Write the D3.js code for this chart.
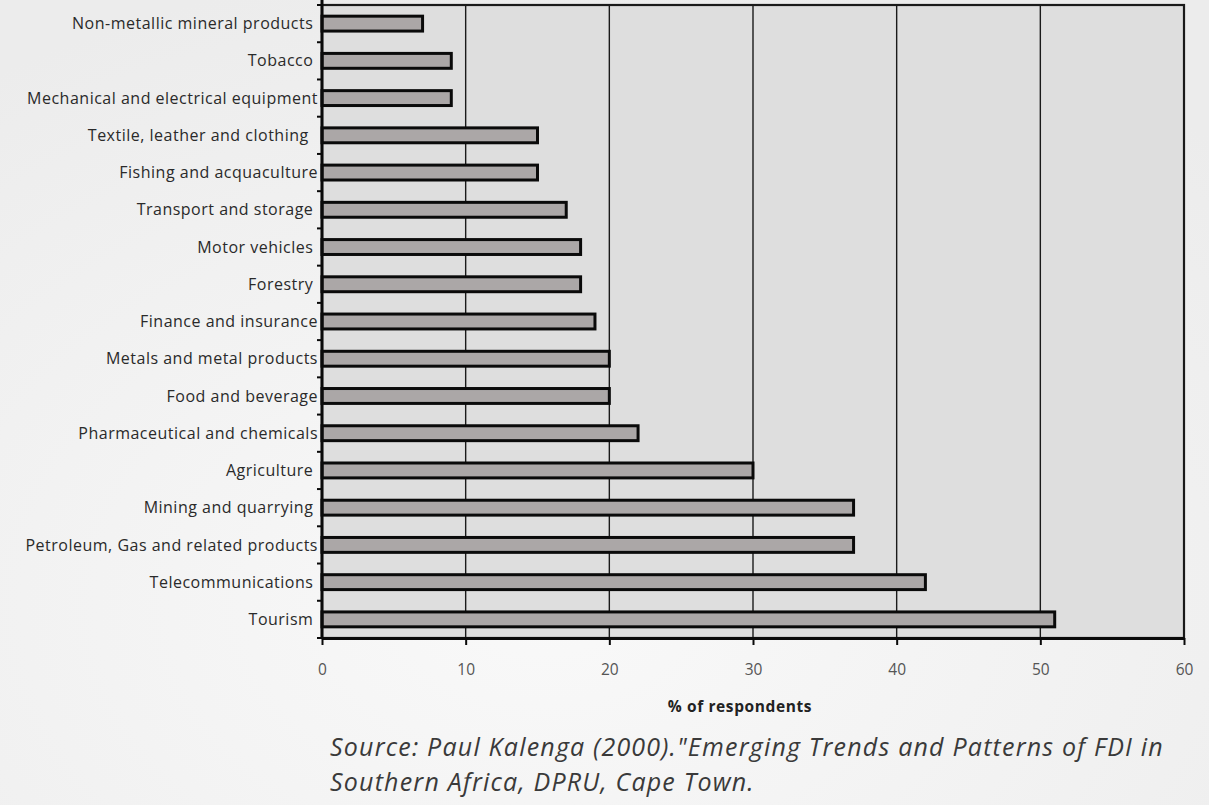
<!DOCTYPE html>
<html>
<head>
<meta charset="utf-8">
<script src="https://cdn.jsdelivr.net/npm/d3@7"></script>
<style>
  html, body { margin: 0; padding: 0; }
  body { width: 1209px; height: 805px; overflow: hidden; }
  svg { display: block; }
  text { white-space: pre; }
</style>
</head>
<body>
<svg id="chart" width="1209" height="805"></svg>
<script>
// Sectors attracting FDI, share of respondents (%)
const sectors = [
  "Non-metallic mineral products ",
  "Tobacco ",
  "Mechanical and electrical equipment",
  "Textile, leather and clothing  ",
  "Fishing and acquaculture",
  "Transport and storage ",
  "Motor vehicles ",
  "Forestry ",
  "Finance and insurance",
  "Metals and metal products",
  "Food and beverage",
  "Pharmaceutical and chemicals",
  "Agriculture ",
  "Mining and quarrying ",
  "Petroleum, Gas and related products",
  "Telecommunications ",
  "Tourism "
];
const respondents = [7, 9, 9, 15, 15, 17, 18, 18, 19, 20, 20, 22, 30, 37, 37, 42, 51];
const xTicks = [0, 10, 20, 30, 40, 50, 60];
const xTitle = "% of respondents";
const sourceLines = [
  "Source: Paul Kalenga (2000).\"Emerging Trends and Patterns of FDI in",
  "Southern Africa, DPRU, Cape Town."
];

const svg = d3.select("#chart");
const W = 1209, H = 805;
const plot = { left: 322, right: 1184, top: 5, bottom: 638 };
const font = "'Open Sans', sans-serif";

// page background
const defs = svg.append("defs");
const bg = defs.append("radialGradient").attr("id", "bg")
  .attr("cx", "0.45").attr("cy", "0.75").attr("r", "0.8");
bg.append("stop").attr("offset", "0%").attr("stop-color", "#f9f9f9");
bg.append("stop").attr("offset", "100%").attr("stop-color", "#ececec");
svg.append("rect").attr("width", W).attr("height", H).attr("fill", "url(#bg)");

const x = d3.scaleLinear().domain([0, 60]).range([plot.left, plot.right]);
const y = d3.scaleBand().domain(sectors)
  .range([plot.top, plot.bottom])
  .paddingInner(0.6).paddingOuter(0.3);

// plot area
svg.append("rect")
  .attr("x", plot.left).attr("y", plot.top)
  .attr("width", plot.right - plot.left).attr("height", plot.bottom - plot.top)
  .attr("fill", "#dedede");

// vertical gridlines
svg.append("g").selectAll("line")
  .data(xTicks.slice(1, -1))
  .join("line")
  .attr("x1", d => x(d)).attr("x2", d => x(d))
  .attr("y1", plot.top).attr("y2", plot.bottom)
  .attr("stroke", "#1a1a1a").attr("stroke-width", 1.4);

// bars
svg.append("g").selectAll("rect")
  .data(sectors)
  .join("rect")
  .attr("x", x(0))
  .attr("y", d => y(d))
  .attr("width", (d, i) => x(respondents[i]) - x(0))
  .attr("height", y.bandwidth())
  .attr("fill", "#aba7a7")
  .attr("stroke", "#0a0a0a")
  .attr("stroke-width", 3);

// frame
svg.append("rect")
  .attr("x", plot.left).attr("y", plot.top)
  .attr("width", plot.right - plot.left).attr("height", plot.bottom - plot.top)
  .attr("fill", "none").attr("stroke", "#1a1a1a").attr("stroke-width", 2.2);

// x axis
const xAxis = d3.axisBottom(x).tickValues(xTicks).tickSize(7).tickPadding(19).tickSizeOuter(0);
const gx = svg.append("g").attr("transform", `translate(0,${plot.bottom})`).call(xAxis);
gx.select(".domain").attr("stroke", "#0a0a0a").attr("stroke-width", 3);
gx.selectAll(".tick line").attr("stroke", "#0a0a0a").attr("stroke-width", 2);
gx.selectAll(".tick text")
  .attr("font-family", font).attr("font-size", 15.5)
  .attr("fill", "#555");

// y axis: ticks at category boundaries
const step = y.step();
const boundaries = d3.range(sectors.length + 1).map(i => plot.top + i * step);
svg.append("line")
  .attr("x1", plot.left).attr("x2", plot.left)
  .attr("y1", plot.top - 5).attr("y2", plot.bottom)
  .attr("stroke", "#0a0a0a").attr("stroke-width", 3);
svg.append("g").selectAll("line")
  .data(boundaries)
  .join("line")
  .attr("x1", plot.left - 5).attr("x2", plot.left)
  .attr("y1", d => d).attr("y2", d => d)
  .attr("stroke", "#0a0a0a").attr("stroke-width", 2);

// category labels
svg.append("g").selectAll("text")
  .data(sectors)
  .join("text")
  .attr("x", plot.left - 4)
  .attr("y", d => y(d) + y.bandwidth() / 2)
  .attr("dy", "0.35em")
  .attr("text-anchor", "end")
  .attr("font-family", font)
  .attr("font-size", 16)
  .attr("letter-spacing", 0.5)
  .attr("fill", "#2a2a2a")
  .text(d => d);

// x axis title
svg.append("text")
  .attr("x", 740)
  .attr("y", 712)
  .attr("text-anchor", "middle")
  .attr("font-family", font)
  .attr("font-weight", "bold")
  .attr("font-size", 15.5)
  .attr("letter-spacing", 0.6)
  .attr("fill", "#222")
  .text(xTitle);

// source note
svg.append("g").selectAll("text")
  .data(sourceLines)
  .join("text")
  .attr("x", 330)
  .attr("y", (d, i) => 756 + i * 35)
  .attr("font-family", font)
  .attr("font-style", "italic")
  .attr("font-size", 25)
  .attr("letter-spacing", 1.2)
  .attr("fill", "#3a3a3a")
  .text(d => d);
</script>
</body>
</html>
